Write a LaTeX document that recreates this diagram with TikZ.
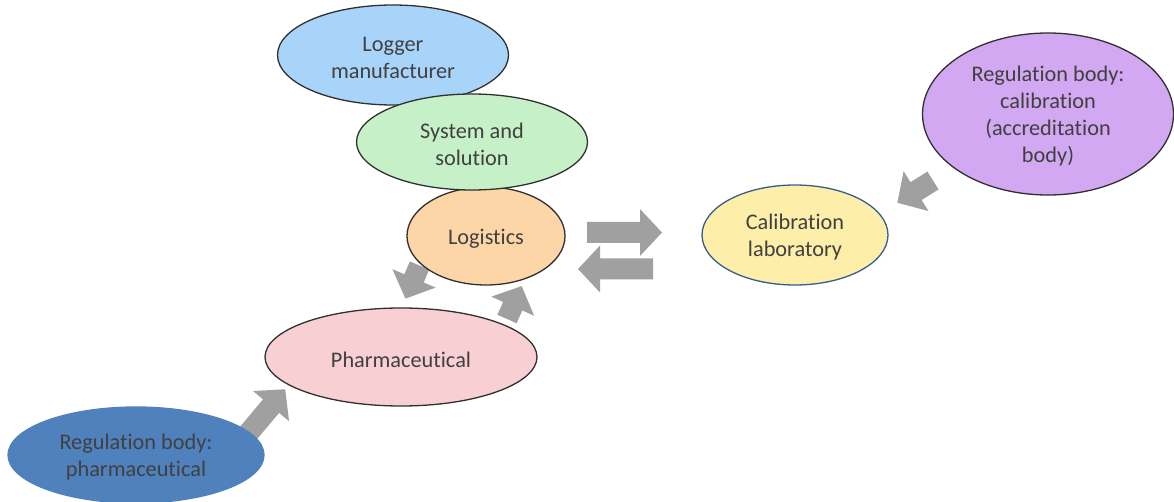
\documentclass[tikz,border=0pt]{standalone}
\usepackage{fontspec}
\setmainfont{Carlito}[Ligatures={NoCommon}]
\usetikzlibrary{shapes.geometric}
\definecolor{txt}{HTML}{404040}
\definecolor{edge}{HTML}{303030}
\definecolor{loggerfill}{HTML}{A9D4FA}
\definecolor{systemfill}{HTML}{C6F1C8}
\definecolor{logisticsfill}{HTML}{FCD6A6}
\definecolor{pharmafill}{HTML}{F8CFD2}
\definecolor{regpharmafill}{HTML}{4F81BD}
\definecolor{calfill}{HTML}{FDEEA9}
\definecolor{caledge}{HTML}{385D8A}
\definecolor{regcalfill}{HTML}{D1A8F1}
\definecolor{arrowfill}{HTML}{A0A0A0}
\newcommand\blockarr[3]{% tail point, angle, length
  \fill[arrowfill, shift={(#1)}, rotate=#2] (0,10.5) -- ({#3-22},10.5) -- ({#3-22},23.5) -- (#3,0) -- ({#3-22},-23.5) -- ({#3-22},-10.5) -- (0,-10.5) -- cycle;}
\begin{document}
\begin{tikzpicture}[x=1pt,y=-1pt,
  bubble/.style={ellipse, draw=edge, line width=1.3pt, inner sep=0pt},
  bubbletext/.style={align=center, text=txt, inner sep=0pt, yshift=-2.5pt,
    font=\fontsize{22.3}{27}\selectfont}]
\useasboundingbox (0,0) rectangle (1174,502);
% block arrows
\blockarr{246,436}{50}{61}
\blockarr{419.5,265.5}{247}{36}
\blockarr{507,319}{66}{36}
\blockarr{587,232.5}{0}{75}
\blockarr{653,269}{180}{75}
\blockarr{933,180.5}{212}{42}
% bubbles
\node[bubble, fill=loggerfill, minimum width=231pt, minimum height=100pt,
  label={[bubbletext]center:Logger\\manufacturer}] (logger) at (393,55) {};
\node[bubble, fill=logisticsfill, minimum width=158pt, minimum height=98pt,
  label={[bubbletext]center:Logistics}] (logistics) at (486,236) {};
\node[bubble, fill=systemfill, minimum width=231pt, minimum height=96pt,
  label={[bubbletext]center:System and\\solution}] (system) at (472,142) {};
\node[bubble, fill=pharmafill, minimum width=272pt, minimum height=98pt,
  label={[bubbletext]center:Pharmaceutical}] (pharma) at (401,357) {};
\node[bubble, fill=regpharmafill, draw=regpharmafill, minimum width=256pt, minimum height=96pt,
  label={[bubbletext]center:Regulation body:\\pharmaceutical}] (regpharma) at (136,455) {};
\node[bubble, fill=calfill, draw=caledge, minimum width=186pt, minimum height=100pt,
  label={[bubbletext]center:Calibration\\laboratory}] (callab) at (795,235) {};
\node[bubble, fill=regcalfill, minimum width=251pt, minimum height=162pt,
  label={[bubbletext]center:Regulation body:\\calibration\\(accreditation\\body)}] (regcal) at (1048,114) {};
\end{tikzpicture}
\end{document}
